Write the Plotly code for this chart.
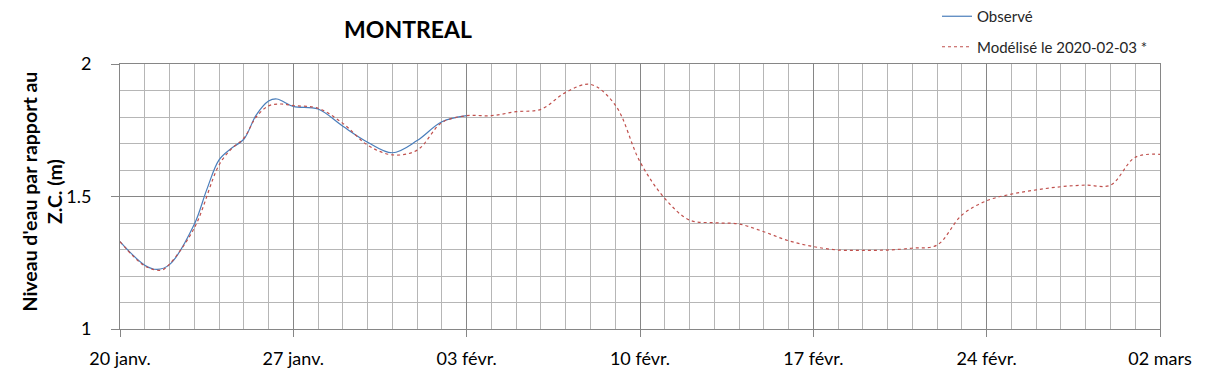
import plotly.graph_objects as go

# ---- data ----
obs_dates = ["2020-01-20", "2020-01-21", "2020-01-21 12:00", "2020-01-22", "2020-01-23",
             "2020-01-23 12:00", "2020-01-24", "2020-01-24 12:00", "2020-01-25",
             "2020-01-25 12:00", "2020-01-26", "2020-01-26 08:00", "2020-01-27",
             "2020-01-28", "2020-01-29", "2020-01-30", "2020-01-31", "2020-02-01",
             "2020-02-02", "2020-02-03"]
obs_values = [1.330, 1.241, 1.225, 1.243, 1.395,
              1.525, 1.638, 1.682, 1.716,
              1.807, 1.860, 1.868, 1.840,
              1.830, 1.765, 1.705, 1.665, 1.711,
              1.782, 1.805]

mod_dates = ["2020-01-20", "2020-01-21", "2020-01-21 16:00", "2020-01-22", "2020-01-23",
             "2020-01-24", "2020-01-24 12:00", "2020-01-25", "2020-01-25 12:00",
             "2020-01-26", "2020-01-26 12:00", "2020-01-27", "2020-01-28", "2020-01-29",
             "2020-01-30", "2020-01-31", "2020-02-01", "2020-02-02", "2020-02-03",
             "2020-02-04", "2020-02-05", "2020-02-06", "2020-02-07", "2020-02-08",
             "2020-02-09", "2020-02-10", "2020-02-11", "2020-02-12", "2020-02-13",
             "2020-02-14", "2020-02-15", "2020-02-16", "2020-02-17", "2020-02-18",
             "2020-02-19", "2020-02-20", "2020-02-21", "2020-02-22", "2020-02-23",
             "2020-02-24", "2020-02-25", "2020-02-26", "2020-02-27", "2020-02-28",
             "2020-02-29", "2020-03-01", "2020-03-02"]
mod_values = [1.330, 1.238, 1.222, 1.245, 1.381,
              1.619, 1.680, 1.720, 1.800,
              1.842, 1.849, 1.843, 1.833, 1.776,
              1.694, 1.657, 1.675, 1.779, 1.805,
              1.805, 1.820, 1.829, 1.893, 1.923,
              1.845, 1.631, 1.493, 1.411, 1.401,
              1.396, 1.367, 1.333, 1.311, 1.298,
              1.297, 1.298, 1.305, 1.317, 1.430,
              1.484, 1.509, 1.525, 1.537, 1.543,
              1.543, 1.648, 1.659]

tick_dates = ["2020-01-20", "2020-01-27", "2020-02-03", "2020-02-10",
              "2020-02-17", "2020-02-24", "2020-03-02"]
tick_labels = ["20 janv.", "27 janv.", "03 févr.", "10 févr.",
               "17 févr.", "24 févr.", "02 mars"]
y_ticks = [1, 1.5, 2]
y_labels = ["1", "1.5", "2"]

FONT = "Lato, 'Open Sans', sans-serif"
MAJOR = "#868686"
MINOR = "#b6b6b6"

# the page body has an 8px default margin: figure is sized so the plot lands where it should
OFF = 8
W, H = 1209 - OFF, 378 - OFF
L, T, R, B = 120 - OFF, 64 - OFF, 49, 49
PW, PH = W - L - R, H - T - B

fig = go.Figure()
fig.add_trace(go.Scatter(x=obs_dates, y=obs_values, mode="lines", name="Observé",
                         legendgroup="a",
                         line=dict(color="#4a7ebb", width=1.2, shape="spline")))
fig.add_trace(go.Scatter(x=mod_dates, y=mod_values, mode="lines",
                         name="Modélisé le 2020-02-03 *", legendgroup="b",
                         line=dict(color="#c0504d", width=1.2, dash="3px,3px", shape="spline")))

fig.update_layout(
    width=W, height=H,
    margin=dict(l=L, r=R, t=T, b=B, autoexpand=False),
    paper_bgcolor="white", plot_bgcolor="white",
    font=dict(family=FONT, color="#1a1a1a"),
    title=dict(text="<b>MONTREAL</b>", x=(408 - OFF) / W, xanchor="center", xref="container",
               y=1 - (30 - OFF) / H, yanchor="middle", font=dict(size=23, color="#000")),
    showlegend=True,
    legend=dict(x=(937 - 120) / PW, y=1 + (64 - 0) / PH, xanchor="left", yanchor="top",
                font=dict(size=15, color="#262626"), tracegroupgap=8,
                bgcolor="rgba(0,0,0,0)"),
    xaxis=dict(type="date", range=["2020-01-20", "2020-03-02"],
               tickmode="array", tickvals=tick_dates, ticktext=tick_labels,
               tickfont=dict(size=18, color="#000"),
               ticks="outside", ticklen=7, tickcolor=MAJOR, ticklabelstandoff=6,
               showgrid=True, gridcolor=MAJOR, gridwidth=1,
               showline=True, linecolor=MAJOR, linewidth=1, mirror=True,
               minor=dict(tickmode="linear", tick0="2020-01-20", dtick=86400000,
                          showgrid=True, gridcolor=MINOR, gridwidth=1, ticks=""),
               zeroline=False),
    yaxis=dict(range=[1, 2], tickmode="array", tickvals=y_ticks, ticktext=y_labels,
               tickfont=dict(size=18, color="#000"),
               ticks="outside", ticklen=8, tickcolor=MAJOR, ticklabelstandoff=16,
               showgrid=True, gridcolor=MAJOR, gridwidth=1,
               showline=True, linecolor=MAJOR, linewidth=1, mirror=True,
               minor=dict(tickmode="linear", tick0=1, dtick=0.1,
                          showgrid=True, gridcolor=MINOR, gridwidth=1, ticks=""),
               zeroline=False),
    annotations=[dict(text="<b>Niveau d'eau par rapport au<br>Z.C. (m)</b>",
                      xref="paper", yref="paper",
                      x=(41 - 120) / PW, y=1 - (191.5 - 64) / PH,
                      xanchor="center", yanchor="middle", textangle=-90,
                      showarrow=False, font=dict(size=19.5, color="#000"))],
)

fig.write_html("out.html")
